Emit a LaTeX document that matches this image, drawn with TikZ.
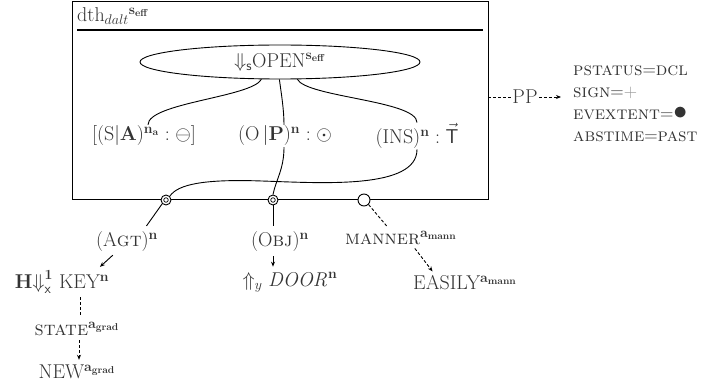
\RequirePackage{fix-cm}
\documentclass[tikz,border=0pt]{standalone}
\usepackage{amssymb}
\usepackage{graphicx}
\usetikzlibrary{shapes.geometric,arrows.meta}
\definecolor{txt}{gray}{0.2}
\tikzset{
  lab/.style={inner sep=1pt, text=txt, font=\fontsize{20}{23}\selectfont},
  attr/.style={inner sep=0pt, text=txt, align=left, font=\fontsize{18.5}{22}\selectfont},
  conn/.style={line width=0.9pt},
  arr/.style={line width=0.9pt, -{Stealth[length=5pt,width=4pt]}},
  dsh/.style={line width=0.9pt, dash pattern=on 3pt off 2pt},
  gap/.style={shorten <=3pt, shorten >=4pt},
  ring/.style={circle, draw, line width=0.9pt, fill=white, minimum size=10pt, inner sep=0pt},
}
\begin{document}
\begin{tikzpicture}[x=1pt,y=-1pt]
\useasboundingbox (0,0) rectangle (710,385);
% box
\draw[line width=1pt] (72,2) rectangle (488,200);
\draw[line width=1.2pt] (77,30) -- (483,30);
\node[lab, anchor=west] (hdr) at (76,16) {dth$_{dalt}{}^{\mathbf{s}_{\mathbf{eff}}}$};
% ellipse
\node[ellipse, draw, line width=0.9pt, minimum width=280pt, minimum height=34pt, inner sep=0pt, lab] (ell) at (280,62) {$\Downarrow_{\mathsf{s}}$OPEN$^{\mathbf{s}_{\mathbf{eff}}}$};
% labels
\node[lab] (sa) at (144,136) {$[(\mathrm{S}|\mathbf{A})^{\mathbf{n}_{\mathbf{a}}}:\ominus]$};
\node[lab] (op) at (285,136) {$(\mathrm{O}\,|\mathbf{P})^{\mathbf{n}}:\odot$};
\node[lab] (ins) at (417,136) {$(\mathrm{INS})^{\mathbf{n}}:\vec{\mathsf{T}}$};
% curves from ellipse
\draw[conn] (ell.223) .. controls +(-10,18) and +(0,-22) .. (sa.north -| 148,0);
\draw[conn] (ell.268) .. controls +(2,15) and +(0,-15) .. (op.north -| 284,0);
\draw[conn] (ell.315) .. controls +(10,18) and +(0,-22) .. (ins.north);
% circles on bottom edge
\node[ring] (c1) at (166,200) {};
\node[circle, draw, line width=0.7pt, minimum size=4.5pt, inner sep=0pt] at (c1) {};
\node[ring] (c2) at (273,200) {};
\node[circle, draw, line width=0.7pt, minimum size=4.5pt, inner sep=0pt] at (c2) {};
\node[ring, minimum size=12pt] (c3) at (364,200) {};
% lower curves
\draw[conn] (op.south -| 284,0) .. controls +(0,22) and +(3,-15) .. (c2.north);
\draw[conn] (ins.south) .. controls +(0,40) and +(60,2) .. (262,181) .. controls (205,179) and (178,184) .. (c1.north east);
% below
\node[lab] (agt) at (127,242) {$(\mathrm{A}$\textsc{gt}$)^{\mathbf{n}}$};
\node[lab] (obj) at (280,242) {$(\mathrm{O}$\textsc{bj}$)^{\mathbf{n}}$};
\node[lab] (man) at (401,238) {\textsc{manner}$^{\mathbf{a}_{\mathbf{mann}}}$};
\node[lab] (key) at (62,282) {$\mathbf{H}{\Downarrow}^{\mathbf{1}}_{\mathsf{x}}$ KEY$^{\mathbf{n}}$};
\node[lab] (door) at (290,282) {$\Uparrow_{y}\mathit{DOOR}^{\mathbf{n}}$};
\node[lab] (easy) at (465,283) {EASILY$^{\mathbf{a}_{\mathbf{mann}}}$};
\node[lab] (state) at (77,329) {\textsc{state}$^{\mathbf{a}_{\mathbf{grad}}}$};
\node[lab] (new) at (77,372) {NEW$^{\mathbf{a}_{\mathbf{grad}}}$};
\draw[conn, shorten >=6pt] (c1.south west) -- ([xshift=16pt]agt.north);
\draw[arr, gap] ([xshift=-12pt]agt.south) -- ([xshift=35pt]key.north);
\draw[conn, shorten >=5pt] (c2.south) -- ([xshift=-7pt]obj.north);
\draw[arr, gap] ([xshift=-7pt]obj.south) -- ([xshift=-17pt]door.north);
\draw[dsh, shorten >=5pt] (c3.south east) -- ([xshift=-11pt]man.north);
\draw[dsh, gap, -{Stealth[length=5pt,width=4pt]}] ([xshift=12pt]man.south) -- ([xshift=-30pt]easy.north);
\draw[dsh, gap] ([xshift=18pt]key.south) -- ([xshift=3pt]state.north);
\draw[dsh, gap, -{Stealth[length=5pt,width=4pt]}] ([xshift=2pt]state.south) -- ([xshift=2pt]new.north);
% right side
\node[lab] (pp) at (525,97) {PP};
\draw[dsh] (488,97) -- (pp.west);
\node[attr, anchor=west] (list) at (573,104) {\textsc{pstatus}$=$\textsc{dcl}\\\textsc{sign}$=${\color{black!40}$+$}\\\textsc{evextent}$=$\scalebox{1.5}{$\bullet$}\\\textsc{abstime}$=$\textsc{past}};
\draw[dsh, shorten >=12pt, -{Stealth[length=5pt,width=4pt]}] (pp.east) -- (list.west |- pp.east);
\end{tikzpicture}
\end{document}
